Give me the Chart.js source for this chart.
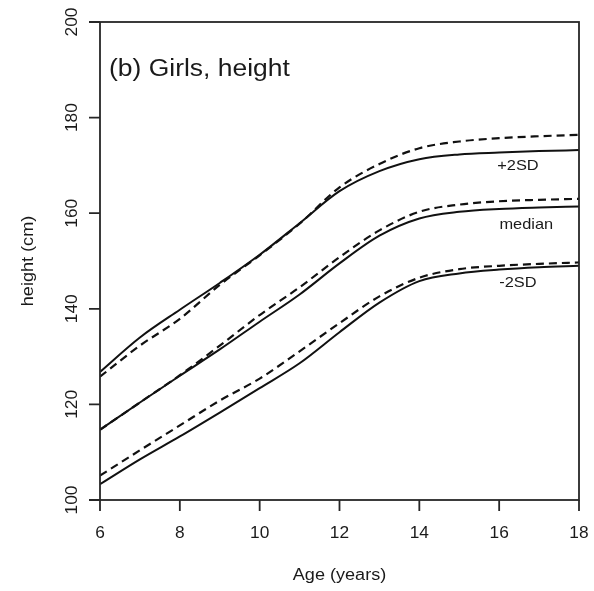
<!DOCTYPE html>
<html>
<head>
<meta charset="utf-8">
<title>Girls, height</title>
<script src="https://cdn.jsdelivr.net/npm/chart.js@4.4.1/dist/chart.umd.min.js"></script>
<style>
  html, body { margin: 0; padding: 0; background: #fff; }
  #wrap { width: 594px; height: 591px; }
</style>
</head>
<body>
<div id="wrap"><canvas id="heightChart" width="594" height="591"></canvas></div>
<script>
// --- data ---
const ages = [6, 7, 8, 9, 10, 11, 12, 13, 14, 15, 16, 17, 18];

// solid lines
const plus2Solid  = [126.8, 134.0, 139.8, 145.4, 151.3, 157.9, 164.6, 168.8, 171.3, 172.3, 172.7, 173.0, 173.2];
const medianSolid = [114.7, 120.4, 126.0, 131.5, 137.3, 143.0, 149.5, 155.3, 158.9, 160.3, 160.9, 161.2, 161.4];
const minus2Solid = [103.3, 108.5, 113.3, 118.3, 123.4, 128.6, 135.1, 141.3, 145.8, 147.4, 148.2, 148.7, 149.0];

// dashed lines
const plus2Dashed  = [125.8, 132.3, 137.9, 145.0, 151.2, 157.8, 165.4, 170.3, 173.6, 175.0, 175.7, 176.1, 176.4];
const medianDashed = [114.7, 120.4, 126.1, 132.3, 138.7, 144.5, 150.8, 156.4, 160.3, 161.8, 162.5, 162.8, 163.0];
const minus2Dashed = [105.1, 110.4, 115.6, 120.8, 125.4, 131.1, 137.0, 142.6, 146.5, 148.3, 149.0, 149.4, 149.7];

// tick labels
const xTicks = [6, 8, 10, 12, 14, 16, 18];
const yTicks = [100, 120, 140, 160, 180, 200];

// curve names written on the right, anchored in data units (age, cm)
const curveNames = ['+2SD', 'median', '-2SD'];
const curveNameAt = [[16.47, 169.9], [16.68, 157.6], [16.47, 145.3]];

const INK = '#111';
const FONT = '"Liberation Sans", Arial, sans-serif';
const STRETCH = 1.13; // text in the picture is a little wider than Arial

function toPoints(values) {
    return ages.map((a, i) => ({ x: a, y: values[i] }));
}

function line(label, values, dashed) {
    return {
        label: label,
        data: toPoints(values),
        borderColor: INK,
        borderWidth: dashed ? 2.2 : 2,
        borderDash: dashed ? [8, 5] : [],
        pointRadius: 0,
        fill: false,
        cubicInterpolationMode: 'monotone'
    };
}

function drawText(ctx, text, x, y, size, align, vertical, stretch) {
    ctx.save();
    ctx.translate(x, y);
    if (vertical) ctx.rotate(-Math.PI / 2);
    ctx.scale(stretch || 1, 1);
    ctx.font = size + 'px ' + FONT;
    ctx.fillStyle = '#1a1a1a';
    ctx.textAlign = align;
    ctx.textBaseline = 'middle';
    ctx.fillText(text, 0, 0);
    ctx.restore();
}

// axes, box and all texts, in R base-graphics style
const framePlugin = {
    id: 'frame',
    afterDraw(chart) {
        const ctx = chart.ctx;
        const a = chart.chartArea;
        const xs = chart.scales.x;
        const ys = chart.scales.y;

        ctx.save();
        ctx.strokeStyle = '#262626';
        ctx.lineWidth = 1.8;
        ctx.setLineDash([]);
        ctx.strokeRect(a.left, a.top, a.right - a.left, a.bottom - a.top);

        ctx.beginPath();
        xTicks.forEach(t => {
            const px = xs.getPixelForValue(t);
            ctx.moveTo(px, a.bottom);
            ctx.lineTo(px, a.bottom + 11);
        });
        yTicks.forEach(t => {
            const py = ys.getPixelForValue(t);
            ctx.moveTo(a.left, py);
            ctx.lineTo(a.left - 11, py);
        });
        ctx.stroke();
        ctx.restore();

        xTicks.forEach(t => drawText(ctx, String(t), xs.getPixelForValue(t), a.bottom + 33, 16.5, 'center', false, 1.05));
        yTicks.forEach(t => drawText(ctx, String(t), a.left - 28, ys.getPixelForValue(t), 16.5, 'center', true, 1.05));

        const midX = (a.left + a.right) / 2;
        const midY = (a.top + a.bottom) / 2;
        drawText(ctx, 'Age (years)', midX, a.bottom + 76, 16, 'center', false, STRETCH);
        drawText(ctx, 'height (cm)', 29, midY, 16, 'center', true, STRETCH);

        drawText(ctx, '(b) Girls, height', a.left + 9, a.top + 48, 23, 'left', false, 1.15);

        curveNames.forEach((name, i) => {
            const p = curveNameAt[i];
            drawText(ctx, name, xs.getPixelForValue(p[0]), ys.getPixelForValue(p[1]), 14.5, 'center', false, STRETCH);
        });
    }
};

const ctx = document.getElementById('heightChart').getContext('2d');
new Chart(ctx, {
    type: 'line',
    data: {
        datasets: [
            line('+2SD', plus2Solid, false),
            line('median', medianSolid, false),
            line('-2SD', minus2Solid, false),
            line('+2SD (dashed)', plus2Dashed, true),
            line('median (dashed)', medianDashed, true),
            line('-2SD (dashed)', minus2Dashed, true)
        ]
    },
    options: {
        responsive: false,
        animation: false,
        layout: {
            padding: { left: 100, right: 15, top: 22, bottom: 91 }
        },
        scales: {
            x: { type: 'linear', min: 6, max: 18, display: false },
            y: { type: 'linear', min: 100, max: 200, display: false }
        },
        plugins: {
            legend: { display: false },
            tooltip: { enabled: false }
        }
    },
    plugins: [framePlugin]
});
</script>
</body>
</html>
